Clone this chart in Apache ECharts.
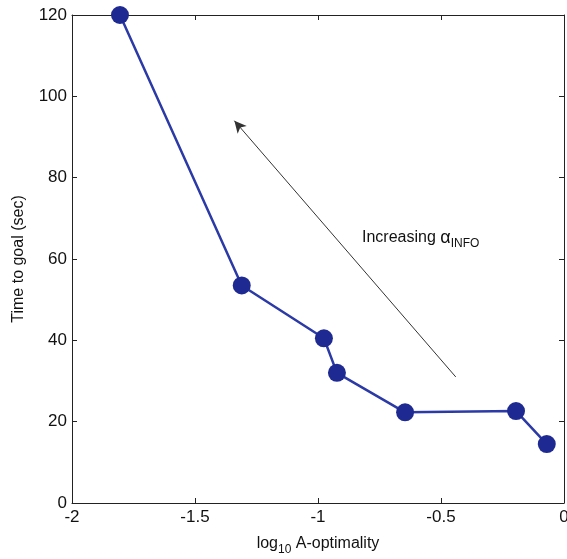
<!DOCTYPE html>
<html>
<head>
<meta charset="utf-8">
<script src="https://cdn.jsdelivr.net/npm/echarts@6/dist/echarts.min.js"></script>
<style>
html, body { margin: 0; padding: 0; background: #fff; }
#chart { width: 567px; height: 559px; }
</style>
</head>
<body>
<div id="chart"></div>
<script>
// data
var logAopt = [-1.805, -1.31, -0.976, -0.923, -0.646, -0.195, -0.07];
var timeToGoal = [120, 53.5, 40.5, 32, 22.3, 22.6, 14.5];
var xTicks = [-2, -1.5, -1, -0.5, 0];
var yTicks = [0, 20, 40, 60, 80, 100, 120];
var arrowFrom = [-0.44, 31];
var arrowTo = [-1.34, 94];

var font = 'Liberation Sans, Arial, sans-serif';
var myChart = echarts.init(document.getElementById('chart'));

var frameAxis = function (extra) {
    return Object.assign({
        axisLine: {show: true, onZero: false, lineStyle: {color: '#222', width: 1}},
        axisTick: {show: true, inside: true, length: 5, lineStyle: {color: '#222'}},
        axisLabel: {show: false},
        splitLine: {show: false}
    }, extra);
};

var option = {
    animation: false,
    grid: {left: 72, right: 3, top: 15, bottom: 56, outerBoundsMode: 'none', containLabel: false},
    xAxis: [
        frameAxis({
            type: 'value', min: -2, max: 0, interval: 0.5, position: 'bottom',
            axisLabel: {
                show: true, color: '#111', fontFamily: font, fontSize: 17, margin: 6,
                formatter: function (v) { return String(v); }
            },
            name: '{n|log}{s|10}{n| A-optimality}',
            nameLocation: 'middle', nameGap: 29,
            nameTextStyle: {
                rich: {
                    n: {fontFamily: font, fontSize: 16, color: '#111'},
                    s: {fontFamily: font, fontSize: 12, color: '#111', padding: [12, 0, 0, 0]}
                }
            }
        }),
        frameAxis({type: 'value', min: -2, max: 0, interval: 0.5, position: 'top'})
    ],
    yAxis: [
        frameAxis({
            type: 'value', min: 0, max: 120, interval: 20, position: 'left',
            axisLabel: {show: true, color: '#111', fontFamily: font, fontSize: 17, margin: 5},
            name: 'Time to goal (sec)',
            nameLocation: 'middle', nameGap: 45,
            nameTextStyle: {fontFamily: font, fontSize: 16, color: '#111'}
        }),
        frameAxis({type: 'value', min: 0, max: 120, interval: 20, position: 'right'})
    ],
    graphic: [{
        type: 'text', left: 362, top: 229,
        style: {
            text: '{n|Increasing }{a|\u03b1}{s|INFO}',
            rich: {
                n: {fontFamily: font, fontSize: 16, fill: '#111'},
                a: {fontFamily: font, fontSize: 18, fill: '#111'},
                s: {fontFamily: font, fontSize: 12, fill: '#111', padding: [12, 0, 0, 0]}
            }
        }
    }],
    series: [{
        type: 'line',
        data: logAopt.map(function (x, i) { return [x, timeToGoal[i]]; }),
        symbol: 'circle',
        symbolSize: 18,
        lineStyle: {color: '#2b3aa6', width: 2.5},
        itemStyle: {color: '#1e2a92'},
        markLine: {
            silent: true,
            symbol: ['none', 'arrow'],
            symbolSize: [9, 12],
            label: {show: false},
            lineStyle: {color: '#333', width: 1, type: 'solid'},
            data: [[{coord: arrowFrom}, {coord: arrowTo}]]
        }
    }]
};
myChart.setOption(option);
</script>
</body>
</html>
